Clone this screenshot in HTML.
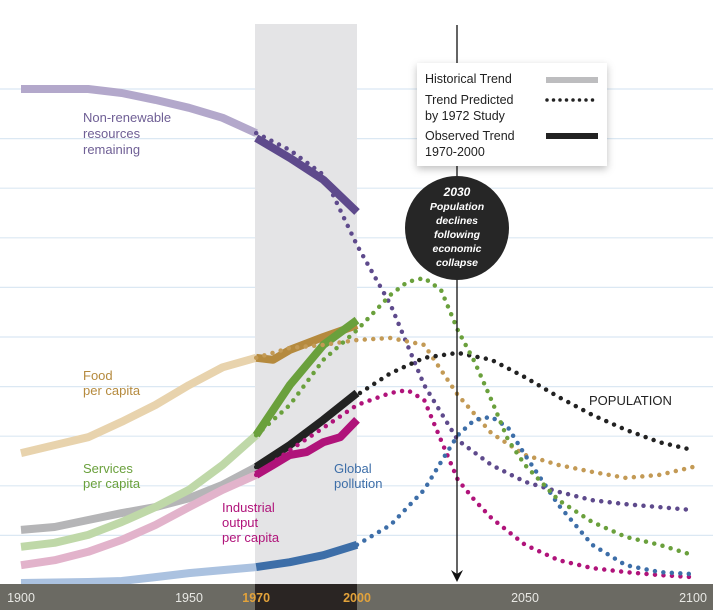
<!DOCTYPE html>
<html><head><meta charset="utf-8"><style>
body{margin:0;background:#fff;}
svg{display:block;font-family:"Liberation Sans",sans-serif;}
</style></head><body>
<svg id="chart" width="713" height="610" viewBox="0 0 713 610" xmlns="http://www.w3.org/2000/svg">
<defs>
<filter id="sh" x="-20%" y="-20%" width="140%" height="150%"><feDropShadow dx="0" dy="3" stdDeviation="4" flood-color="#000" flood-opacity="0.25"/></filter>
</defs>
<g id="grid"></g>
<rect x="255" y="24" width="102" height="560" fill="#e4e4e6"/>
<g id="series"></g>
<rect x="0" y="584" width="713" height="26" fill="#6b6a63"/>
<rect x="255" y="584" width="102" height="26" fill="#2a2523"/>
<g id="ticks"></g>
<line x1="457" y1="25" x2="457" y2="578" stroke="#111" stroke-width="1.3"/>
<path d="M451 570 L457 582 L463 570 L457 574 Z" fill="#111"/>
<g>
<circle cx="457" cy="228" r="52" fill="#262626"/>
<g font-style="italic" font-weight="bold" fill="#fff" font-size="10.5" text-anchor="middle">
<text x="457" y="196" font-size="12">2030</text>
<text x="457" y="210">Population</text>
<text x="457" y="224">declines</text>
<text x="457" y="238">following</text>
<text x="457" y="252">economic</text>
<text x="457" y="266">collapse</text>
</g></g>
<g>
<rect x="417" y="63" width="190" height="103" fill="#fff" filter="url(#sh)"/>
<g font-size="12.5" fill="#222">
<text x="425" y="83">Historical Trend</text>
<text x="425" y="104">Trend Predicted</text>
<text x="425" y="120">by 1972 Study</text>
<text x="425" y="140">Observed Trend</text>
<text x="425" y="156">1970-2000</text>
</g>
<line x1="546" y1="80" x2="598" y2="80" stroke="#bdbdbf" stroke-width="6"/>
<line x1="547" y1="100" x2="598" y2="100" stroke="#222" stroke-width="3.5" stroke-linecap="round" stroke-dasharray="0 6.5"/>
<line x1="546" y1="136" x2="598" y2="136" stroke="#222" stroke-width="6"/>
</g>
<g font-size="13">
<text fill="#6f5f95"><tspan x="83" y="122">Non-renewable</tspan><tspan x="83" y="138">resources</tspan><tspan x="83" y="154">remaining</tspan></text>
<text fill="#b58a3e"><tspan x="83" y="380">Food</tspan><tspan x="83" y="395">per capita</tspan></text>
<text fill="#6aa03c"><tspan x="83" y="473">Services</tspan><tspan x="83" y="488">per capita</tspan></text>
<text fill="#b0137a"><tspan x="222" y="512">Industrial</tspan><tspan x="222" y="527">output</tspan><tspan x="222" y="542">per capita</tspan></text>
<text fill="#3d6ea8"><tspan x="334" y="473">Global</tspan><tspan x="334" y="488">pollution</tspan></text>
<text fill="#222" x="589" y="405">POPULATION</text>
</g>
<script>
const tickYears=[1900,1950,1970,2000,2050,2100];
const gridValues=[10,20,30,40,50,60,70,80,90,100];
// Non-renewable resources
const resHistYears=[1900,1910,1920,1930,1940,1950,1960,1970];
const resHist=[100,100,100,99.2,97.8,96.2,94.2,91.1];
const resObsYears=[1970,1980,1990,2000];
const resObs=[90.1,86.1,81.7,75.2];
const resPredYears=[1970,1980,1990,2000,2010,2020,2030,2040,2050,2060,2070,2080,2090,2100];
const resPred=[91.1,87.7,82.7,68.5,56.5,40.3,29.2,24.2,20.8,18.8,17.1,16.3,15.7,15.1];
// Food
const foodHistYears=[1900,1910,1920,1930,1940,1950,1960,1970];
const foodHist=[26.6,28.2,29.8,32.9,36.3,40.3,43.9,45.8];
const foodObsYears=[1970,1975,1980,1990,2000];
const foodObs=[45.8,45.4,47.4,50.0,52.4];
const foodPredYears=[1970,1980,1990,2000,2010,2020,2030,2040,2050,2060,2070,2080,2090,2100];
const foodPred=[45.8,47.8,48.4,49.4,49.8,48.4,38.3,30.6,26.2,24.2,22.8,21.6,22.2,23.8];
// Services
const servHistYears=[1900,1910,1920,1930,1940,1950,1960,1970];
const servHist=[7.7,8.5,10.1,12.7,15.7,19.2,24.2,30.2];
const servObsYears=[1970,1980,1990,2000];
const servObs=[30.2,40.3,48.4,53.4];
const servPredYears=[1970,1980,1990,2000,2010,2015,2020,2025,2030,2035,2040,2045,2050,2060,2070,2080,2090,2100];
const servPred=[30.2,36.3,45.4,51.4,58.5,61.1,61.9,59.5,51.4,45.0,37.3,29.2,24.2,17.1,12.7,9.7,8.1,6.0];
// Population
const popHistYears=[1900,1910,1920,1930,1940,1950,1960,1970];
const popHist=[11.1,11.7,13.1,14.5,15.7,17.5,20.2,23.8];
const popObsYears=[1970,1980,1990,2000];
const popObs=[23.8,28.2,33.3,38.7];
const popPredYears=[1970,1980,1990,2000,2010,2020,2030,2040,2050,2060,2070,2080,2090,2100];
const popPred=[23.8,28.2,33.3,38.3,42.7,45.8,46.8,45.4,41.9,37.9,34.3,31.3,28.8,27.2];
// Industrial output
const indHistYears=[1900,1910,1920,1930,1940,1950,1960,1970];
const indHist=[4.0,5.0,6.7,9.1,12.1,15.7,19.2,22.2];
const indObsYears=[1970,1975,1980,1985,1990,1995,2000];
const indObs=[22.2,24.2,26.2,26.8,28.8,29.8,33.3];
const indPredYears=[1970,1980,1990,2000,2010,2015,2020,2025,2030,2035,2040,2050,2060,2070,2080,2090,2100];
const indPred=[22.2,27.2,31.7,36.3,38.7,39.3,37.3,29.2,21.2,17.1,13.5,8.1,5.0,3.4,2.6,2.0,1.6];
// Pollution
const polHistYears=[1900,1920,1930,1940,1950,1960,1970];
const polHist=[0.4,0.6,0.8,1.6,2.4,3.0,3.6];
const polObsYears=[1970,1980,1990,2000];
const polObs=[3.6,4.6,6.0,8.1];
const polPredYears=[2000,2010,2020,2025,2030,2035,2040,2045,2050,2060,2070,2080,2090,2100];
const polPred=[8.1,12.1,19.2,24.8,30.2,33.3,33.9,31.7,26.2,16.1,8.1,4.0,2.6,2.2];

const NS="http://www.w3.org/2000/svg";
function xs(yr){return 21+(yr-1900)*3.36;}
function ys(v){return 585-v*4.96;}
function pts(years,vals){return years.map((y,i)=>xs(y).toFixed(1)+","+ys(vals[i]).toFixed(1)).join(" ");}
const grid=document.getElementById("grid");
gridValues.forEach(v=>{
  const l=document.createElementNS(NS,"line");
  
  
  l.setAttribute("x1",0);l.setAttribute("x2",713);
  l.setAttribute("y1",ys(v));l.setAttribute("y2",ys(v));
  l.setAttribute("stroke","#dbe8f3");l.setAttribute("stroke-width","1.2");
  grid.appendChild(l);
});
const ticks=document.getElementById("ticks");
tickYears.forEach(yr=>{
  const t=document.createElementNS(NS,"text");
  
  
  const hl=(yr===1970||yr===2000);
  t.setAttribute("x",xs(yr));t.setAttribute("y",602);
  t.setAttribute("text-anchor","middle");t.setAttribute("font-size","12.5");
  t.setAttribute("fill",hl?"#e2a23a":"#e8e8e4");
  if(hl)t.setAttribute("font-weight","bold");
  t.textContent=yr;ticks.appendChild(t);
});
const series=document.getElementById("series");
function line(name,years,vals,color,dotted){
  const p=document.createElementNS(NS,"polyline");
  
  
  p.setAttribute("points",pts(years,vals));
  p.setAttribute("fill","none");p.setAttribute("stroke",color);
  p.setAttribute("stroke-linejoin","round");
  if(dotted){p.setAttribute("stroke-width","4.5");p.setAttribute("stroke-linecap","round");p.setAttribute("stroke-dasharray","0 8.5");}
  else{p.setAttribute("stroke-width","8");}
  series.appendChild(p);
}
const defs=[
 ["resources",resHistYears,resHist,resObsYears,resObs,resPredYears,resPred,"#b3a8cb","#5e4a8c","#5e4a8c"],
 ["food",foodHistYears,foodHist,foodObsYears,foodObs,foodPredYears,foodPred,"#e8d3ad","#b58a3e","#c39a55"],
 ["population",popHistYears,popHist,popObsYears,popObs,popPredYears,popPred,"#b5b5b7","#222222","#222222"],
 ["industrial",indHistYears,indHist,indObsYears,indObs,indPredYears,indPred,"#e2b3cb","#b0137a","#b0137a"],
 ["pollution",polHistYears,polHist,polObsYears,polObs,polPredYears,polPred,"#abc2e0","#3d6ea8","#3d6ea8"],
 ["services",servHistYears,servHist,servObsYears,servObs,servPredYears,servPred,"#bfd8a8","#6aa03c","#6aa03c"]
];
defs.forEach(d=>{
  line(d[0]+"-historical",d[1],d[2],d[7],false);
  line(d[0]+"-observed",d[3],d[4],d[8],false);
});
defs.forEach(d=>{line(d[0]+"-predicted",d[5],d[6],d[9],true);});
</script>
</svg>
</body></html>
